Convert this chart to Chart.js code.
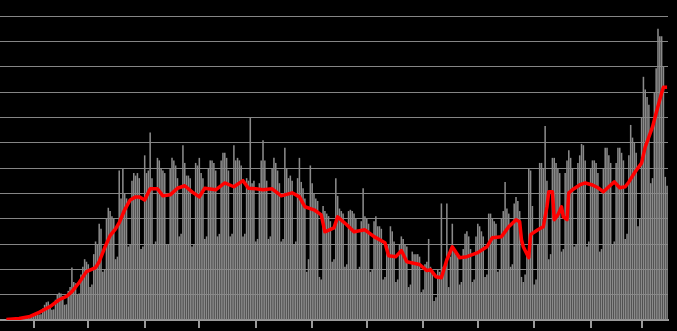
<!DOCTYPE html>
<html>
<head>
<meta charset="utf-8">
<script src="https://cdn.jsdelivr.net/npm/chart.js@4.4.1/dist/chart.umd.min.js"></script>
<style>
  html, body { margin: 0; padding: 0; background: #000; }
  #wrap { width: 677px; height: 331px; }
</style>
</head>
<body>
<div id="wrap"><canvas id="chart"></canvas></div>
<script>
// daily values, day 0 .. day 366
const dailyValues = [
  10, 10, 20, 30, 30, 40, 40,
  30, 30, 60, 70, 80, 90, 90,
  80, 90, 170, 200, 220, 230, 240,
  220, 230, 450, 600, 700, 730, 600,
  400, 420, 800, 1000, 1080, 1050, 950,
  600, 620, 1150, 1300, 2070, 1500, 1450,
  1000, 1050, 1800, 2100, 2400, 2300, 2200,
  1300, 1400, 2600, 3100, 3000, 3800, 3600,
  1900, 2000, 4000, 4430, 4300, 4100, 4000,
  2400, 2500, 5900, 4800, 5960, 5000, 4800,
  2900, 3000, 5500, 5800, 5700, 5800, 5600,
  2800, 2900, 6500, 5800, 5900, 7400, 5600,
  3000, 3100, 6400, 6300, 6000, 5900, 5800,
  3000, 3000, 6000, 6400, 6300, 6100, 5600,
  3300, 3400, 6900, 6200, 5700, 5700, 5600,
  2900, 3000, 6200, 6100, 6400, 5800, 5600,
  3200, 3300, 6000, 6300, 6300, 6200, 5900,
  3300, 3400, 6300, 6600, 6600, 6400, 5900,
  3300, 3400, 6900, 6300, 6400, 6300, 6100,
  3300, 3400, 5600, 5500, 8000, 5400, 5500,
  3100, 3200, 5400, 6300, 7100, 6300, 5500,
  3200, 3300, 6000, 6400, 6200, 5900, 5400,
  3100, 3200, 6800, 6000, 5600, 5700, 5500,
  3000, 3100, 5600, 6400, 5450, 5200, 4800,
  1900, 2400, 6100, 5400, 5000, 4800, 4700,
  1700, 1600, 4500, 4300, 4200, 4100, 3900,
  2300, 2400, 5600, 4900, 4400, 4300, 4200,
  2100, 2200, 4300, 4350, 4300, 4200, 4000,
  2000, 2100, 3900, 5200, 4100, 4000, 3800,
  1900, 2000, 3900, 4100, 3700, 3700, 3600,
  1600, 1700, 2900, 3000, 3700, 3500, 3100,
  1500, 1600, 3000, 3300, 3200, 3000, 2900,
  1300, 1400, 2700, 2600, 2600, 2600, 2500,
  1100, 1200, 2200, 2300, 3200, 2100, 2000,
  750, 900, 2000, 1900, 4600, 2100, 2000,
  4600, 1300, 2500, 3800, 2700, 2600, 2500,
  1400, 1500, 2800, 3400, 3500, 3300, 2800,
  1500, 1600, 3300, 3800, 3700, 3500, 3300,
  1700, 1800, 4200, 4200, 4000, 3900, 3800,
  1900, 2000, 4000, 4300, 5450, 4400, 4200,
  2100, 2200, 4600, 4860, 4700, 4300, 1700,
  1500, 1800, 2600, 6000, 5900, 4500, 1400,
  1600, 3000, 6200, 6200, 6000, 7660, 5500,
  2400, 2600, 6400, 6400, 6200, 6000, 5800,
  2700, 2800, 5800, 6300, 6700, 6400, 6000,
  2900, 3000, 6200, 6500, 6950, 6900, 6300,
  2900, 3100, 6000, 6300, 6300, 6200, 5800,
  2700, 2800, 6000, 6800, 6800, 6500, 6200,
  3000, 3100, 6200, 6800, 6800, 6600, 6300,
  3200, 3400, 6500, 7700, 7200, 7000, 6600,
  3700, 4000, 8000, 9600, 9100, 8800, 8500,
  5400, 5600, 9000, 9940, 11500, 11200, 11200,
  10000, 5650, 5300
];

// red average line, read at these days
const avgDays = [
  3, 10, 16, 21, 27, 32, 36, 39, 43, 47, 52, 54, 57, 60, 63, 65, 68, 71, 74, 76,
  79, 82, 86, 89, 93, 97, 101, 105, 109, 112, 118, 123, 128, 133, 136, 140, 144, 149, 154, 160,
  164, 167, 172, 176, 178, 183, 185, 190, 194, 200, 205, 211, 213, 217, 220, 223, 230, 234, 236, 239,
  242, 245, 248, 252, 256, 262, 267, 270, 275, 279, 283, 285, 286, 287, 290, 291, 295, 298, 300, 301,
  303, 304, 306, 308, 309, 311, 312, 314, 318, 321, 325, 328, 331, 334, 337, 340, 343, 345, 348, 352,
  354, 358, 360, 363, 364, 366
];
const avgValues = [
  20, 60, 140, 300, 530, 800, 930, 1120, 1480, 1910, 2070, 2300, 2850, 3330, 3600, 3840, 4350, 4740, 4860, 4860,
  4740, 5180, 5180, 4900, 4940, 5200, 5300, 5060, 4860, 5200, 5140, 5410, 5260, 5500, 5200, 5180, 5140, 5180, 4900, 5020,
  4860, 4470, 4350, 4150, 3480, 3640, 4070, 3760, 3480, 3560, 3290, 3050, 2540, 2500, 2740, 2300, 2190, 1950, 1990, 1710,
  1670, 2380, 2890, 2460, 2500, 2660, 2890, 3250, 3290, 3680, 3960, 3880, 3170, 2890, 2460, 3370, 3560, 3680, 4470, 5060,
  5060, 3960, 4150, 4470, 4070, 3960, 5020, 5140, 5330, 5410, 5330, 5220, 5060, 5260, 5450, 5220, 5260, 5450, 5800, 6200,
  6830, 7620, 8170, 8960, 9190, 9190
];

// first day of each month (Apr .. Mar)
const monthStarts = [18, 48, 79, 109, 140, 171, 201, 232, 262, 293, 324, 352];

const yMax = 12000;
const yStep = 1000;

const labels = dailyValues.map((v, i) => String(i));
const avgData = labels.map(() => null);
avgDays.forEach((d, i) => { avgData[d] = avgValues[i]; });

new Chart(document.getElementById("chart"), {
  data: {
    labels: labels,
    datasets: [
      {
        type: "line",
        data: avgData,
        borderColor: "#ff0000",
        borderWidth: 3.5,
        pointRadius: 0,
        tension: 0,
        spanGaps: true,
        borderJoinStyle: "round",
        order: 0
      },
      {
        type: "bar",
        data: dailyValues,
        backgroundColor: "#8a8a8a",
        barPercentage: 0.85,
        categoryPercentage: 1,
        order: 1
      }
    ]
  },
  options: {
    responsive: true,
    maintainAspectRatio: false,
    animation: false,
    layout: { padding: { top: 16, right: 9, bottom: 3, left: 0 } },
    plugins: { legend: { display: false }, tooltip: { enabled: false } },
    scales: {
      x: {
        type: "category",
        ticks: { display: false },
        afterBuildTicks: scale => {
          scale.ticks = monthStarts.map(d => ({ value: d }));
        },
        grid: {
          offset: false,
          drawOnChartArea: false,
          drawTicks: true,
          tickLength: 8,
          color: "#9a9a9a",
          lineWidth: 2
        },
        border: { display: true, color: "#9a9a9a", width: 2 }
      },
      y: {
        min: 0,
        max: yMax,
        ticks: { display: false, stepSize: yStep },
        grid: { color: "#858585", lineWidth: 1, drawTicks: false },
        border: { display: false }
      }
    }
  }
});
</script>
</body>
</html>
